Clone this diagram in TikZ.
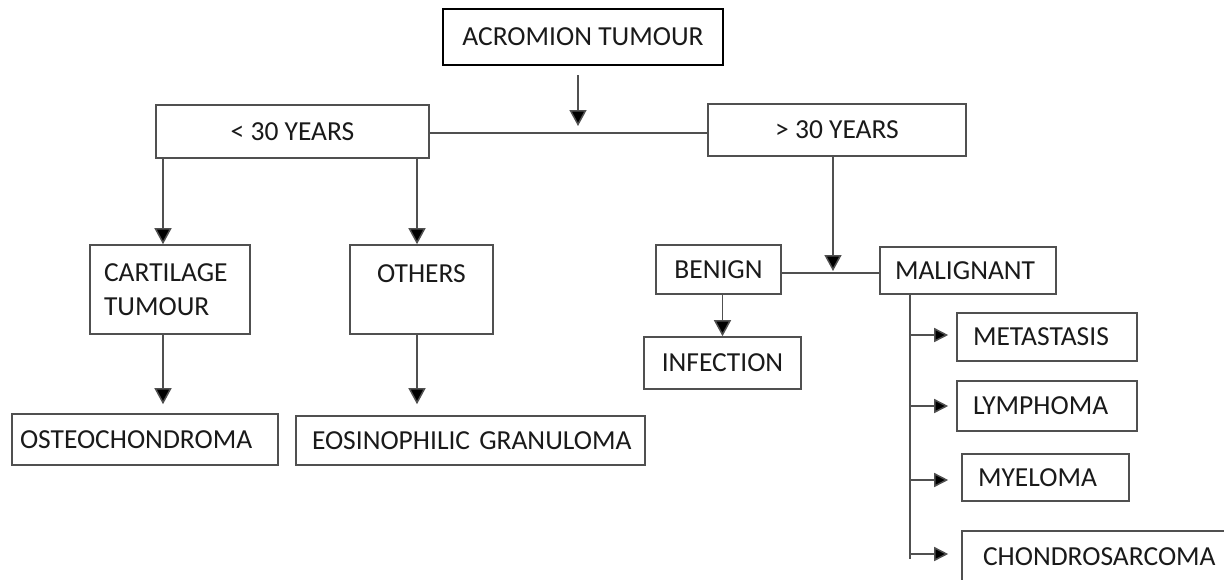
\documentclass[tikz,border=0pt]{standalone}
\usepackage{fontspec}
\setmainfont{Carlito}
\usetikzlibrary{arrows.meta}
\definecolor{lineg}{HTML}{505050}
\definecolor{txt}{HTML}{1A1A1A}
\begin{document}
\begin{tikzpicture}[x=1pt,y=-1pt,
  box/.style={draw=lineg, line width=1.6pt, inner sep=0pt, text=txt,
    font=\fontsize{27.5}{34}\selectfont, align=center},
  lbox/.style 2 args={box, align=left, text width=#1, inner xsep=#2},
  conn/.style={draw=lineg, line width=1.5pt},
  arr/.style={conn, -{Triangle[width=17pt,length=16pt,fill=black]}},
  sarr/.style={conn, -{Triangle[width=14pt,length=14pt,fill=black]}}]
\useasboundingbox (0,0) rectangle (1224,579);
\clip (0,0) rectangle (1224,579);
\fill[white] (0,0) rectangle (1224,579);

% boxes
\node[box, draw=black, line width=2.6pt, minimum width=280pt, minimum height=56pt] (root) at (583,37) {ACROMION TUMOUR};
\node[box, minimum width=273pt, minimum height=53pt] (young) at (292.5,131.5) {< 30 YEARS};
\node[box, minimum width=258pt, minimum height=52pt] (old) at (837,130) {> 30 YEARS};
\node[lbox={132pt}{14pt}, minimum height=89pt] (cart) at (170,289.5) {CARTILAGE\\TUMOUR};
\node[box, minimum width=143pt, minimum height=89pt, text height=18pt, text depth=33pt] (others) at (421.5,289.5) {OTHERS};
\node[box, minimum width=125pt, minimum height=49pt] (benign) at (718.5,269.5) {BENIGN};
\node[lbox={146pt}{15pt}, minimum height=47pt] (malig) at (968,270.5) {\mbox{MALIGNANT}};
\node[box, minimum width=157pt, minimum height=52pt] (infect) at (722.5,363) {INFECTION};
\node[lbox={148pt}{16pt}, minimum height=48pt] (meta) at (1047,337) {\mbox{METASTASIS}};
\node[lbox={148pt}{16pt}, minimum height=50pt] (lymph) at (1047,406) {\mbox{LYMPHOMA}};
\node[lbox={135pt}{16pt}, minimum height=47pt] (myel) at (1045.5,477.5) {\mbox{MYELOMA}};
\node[lbox={236pt}{21pt}, minimum height=51pt] (chondro) at (1101,556.5) {\mbox{CHONDROSARCOMA}};
\node[lbox={250pt}{8pt}, minimum height=51pt] (osteo) at (145,439.5) {\mbox{OSTEOCHONDROMA}};
\node[lbox={317pt}{16pt}, minimum height=49pt] (eosino) at (470.5,440.5) {\mbox{EOSINOPHILIC GRANULOMA}};

% junctions
\coordinate (j1) at (578,133);
\coordinate (j2) at (833,273);
\coordinate (a1) at ([xshift=-7pt]cart.north);
\coordinate (a2) at ([xshift=-4.5pt]others.north);
\coordinate (tr) at ([xshift=-58pt]malig.south);

% connectors
\draw[arr] ([xshift=-5pt,yshift=-9pt]root.south) -- ([yshift=7pt]j1);
\draw[conn] (young.east |- j1) -- (old.west |- j1);
\draw[arr] (young.south -| a1) -- (a1);
\draw[arr] (young.south -| a2) -- (a2);
\draw[arr] (a1 |- cart.south) -- ([yshift=9pt]a1 |- osteo.north);
\draw[arr] (a2 |- others.south) -- ([yshift=11pt]a2 |- eosino.north);
\draw[arr] (old.south -| j2) -- ([yshift=2pt]j2);
\draw[conn] (benign.east |- j2) -- (malig.west |- j2);
\draw[arr] (benign.south -| infect.north) -- (infect.north);
\draw[conn] (tr) -- ([yshift=-2.5pt]tr |- chondro.west);
\draw[sarr] ([yshift=2pt]tr |- meta.west) -- ([xshift=-8pt,yshift=2pt]meta.west);
\draw[sarr] ([yshift=0pt]tr |- lymph.west) -- ([xshift=-8pt]lymph.west);
\draw[sarr] ([yshift=-2.5pt]tr |- myel.west) -- ([xshift=-13pt,yshift=-2.5pt]myel.west);
\draw[sarr] ([yshift=2.5pt]tr |- chondro.west) -- ([xshift=-13pt,yshift=2.5pt]chondro.west);
\end{tikzpicture}
\end{document}
